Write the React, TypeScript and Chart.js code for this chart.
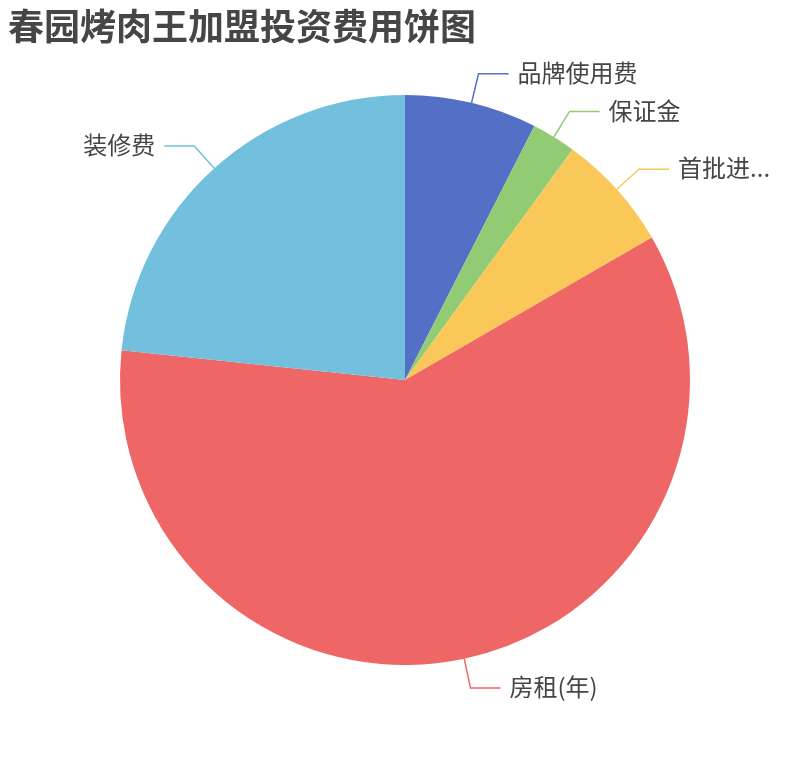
import React, { useEffect, useRef } from "react";
import { Chart, registerables } from "chart.js";

Chart.register(...registerables);

const TITLE = "春园烤肉王加盟投资费用饼图";
const categories = ["品牌使用费", "保证金", "首批进...", "房租(年)", "装修费"];
const values = [4.5, 1.5, 4, 36, 14];
const colors = ["#5470c6", "#91cc75", "#fac858", "#ee6666", "#73c0de"];

const FONT = '"Noto Sans CJK SC", "Noto Sans", sans-serif';
const TEXT_COLOR = "#464646";

const labelPlugin = {
  id: "outsideLabels",
  afterDraw(chart: any) {
    const ctx = chart.ctx as CanvasRenderingContext2D;
    // title
    ctx.save();
    ctx.fillStyle = TEXT_COLOR;
    ctx.font = `bold 36px ${FONT}`;
    ctx.textAlign = "left";
    ctx.textBaseline = "middle";
    ctx.fillText(TITLE, 8, 26);
    ctx.restore();

    const meta = chart.getDatasetMeta(0);
    const labels = chart.data.labels as string[];
    meta.data.forEach((arc: any, i: number) => {
      const p = arc.getProps(["x", "y", "startAngle", "endAngle", "outerRadius"], true);
      const mid = (p.startAngle + p.endAngle) / 2;
      const cos = Math.cos(mid);
      const sin = Math.sin(mid);
      const r1 = p.outerRadius;
      const r2 = p.outerRadius + 30;
      const x1 = p.x + cos * r1;
      const y1 = p.y + sin * r1;
      const x2 = p.x + cos * r2;
      const y2 = p.y + sin * r2;
      const dir = cos >= 0 ? 1 : -1;
      const x3 = x2 + dir * 30;
      const color = (chart.data.datasets[0].backgroundColor as string[])[i];
      ctx.save();
      ctx.strokeStyle = color;
      ctx.lineWidth = 1.5;
      ctx.beginPath();
      ctx.moveTo(x1, y1);
      ctx.lineTo(x2, y2);
      ctx.lineTo(x3, y2);
      ctx.stroke();
      ctx.fillStyle = TEXT_COLOR;
      ctx.font = `24px ${FONT}`;
      ctx.textBaseline = "middle";
      ctx.textAlign = dir > 0 ? "left" : "right";
      ctx.fillText(labels[i], x3 + dir * 9, y2 - 1);
      ctx.restore();
    });
  },
};

export default function App() {
  const ref = useRef<HTMLCanvasElement | null>(null);
  useEffect(() => {
    if (!ref.current) return;
    const chart = new Chart(ref.current, {
      type: "pie",
      data: {
        labels: categories,
        datasets: [
          {
            data: values,
            backgroundColor: colors,
            borderWidth: 0,
            hoverOffset: 0,
          },
        ],
      },
      options: {
        responsive: false,
        animation: false,
        devicePixelRatio: 1,
        layout: { padding: { left: 120, right: 120, top: 95, bottom: 95 } },
        plugins: {
          legend: { display: false },
          title: { display: false },
          tooltip: { enabled: false },
        },
      },
      plugins: [labelPlugin],
    });
    return () => chart.destroy();
  }, []);
  return (
    <div style={{ position: "absolute", left: 0, top: 0, width: 810, height: 760, background: "#fff" }}>
      <canvas ref={ref} width={810} height={760} style={{ width: 810, height: 760 }} />
    </div>
  );
}
